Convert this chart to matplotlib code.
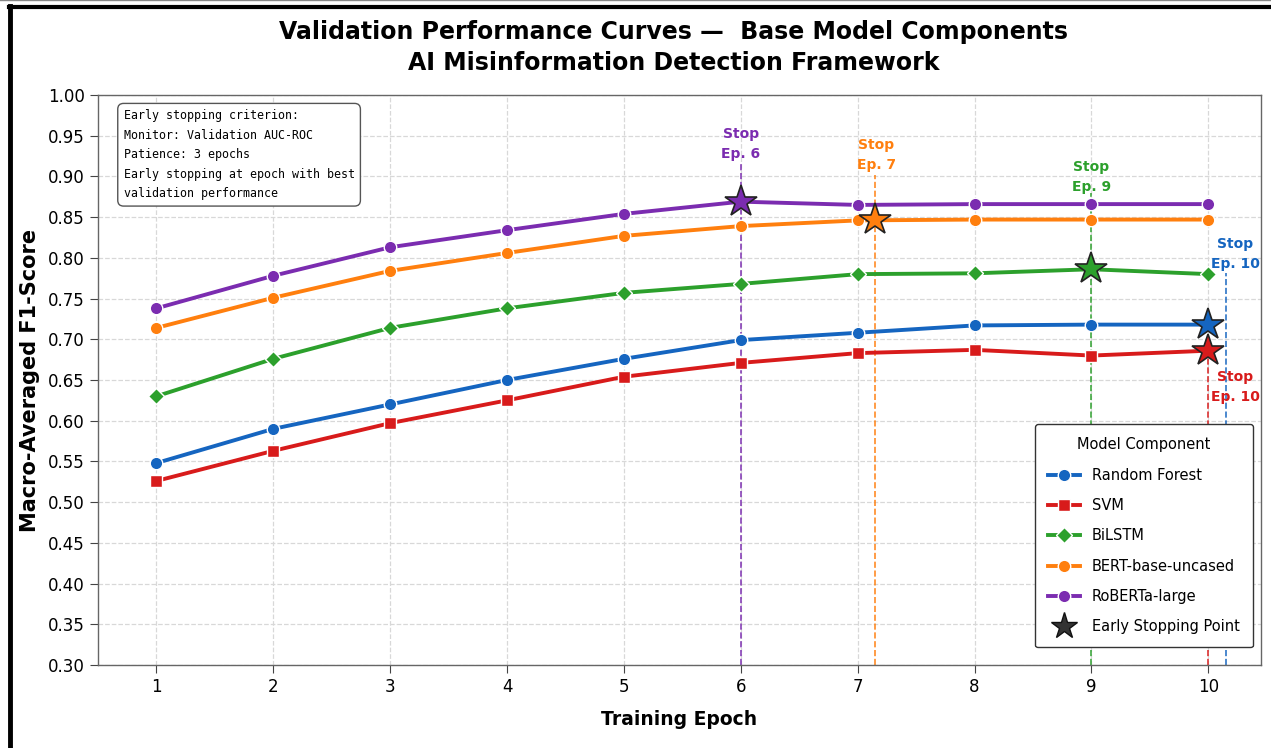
import matplotlib
matplotlib.use("Agg")
import matplotlib.pyplot as plt
from matplotlib.lines import Line2D

epochs = [1, 2, 3, 4, 5, 6, 7, 8, 9, 10]

models = ["Random Forest", "SVM", "BiLSTM", "BERT-base-uncased", "RoBERTa-large"]
rf = [0.548, 0.590, 0.620, 0.650, 0.676, 0.699, 0.708, 0.717, 0.718, 0.718]
svm = [0.526, 0.563, 0.597, 0.625, 0.654, 0.671, 0.683, 0.687, 0.680, 0.686]
bilstm = [0.630, 0.676, 0.714, 0.738, 0.757, 0.768, 0.780, 0.781, 0.786, 0.780]
bert = [0.714, 0.751, 0.784, 0.806, 0.827, 0.839, 0.846, 0.847, 0.847, 0.847]
roberta = [0.738, 0.778, 0.813, 0.834, 0.854, 0.869, 0.865, 0.866, 0.866, 0.866]
stop_epochs = [10, 10, 9, 7, 6]

series = [rf, svm, bilstm, bert, roberta]
colors = ["#1565c0", "#d81b1b", "#2ca02c", "#ff7f0e", "#7b2cb0"]
markers = ["o", "s", "D", "o", "o"]
msizes = [9, 8.5, 8, 9, 9]

# layout of the stop annotations: (x shift, text y, line top)
ann_xshift = [0.15, 0.0, 0.0, 0.15, 0.0]
ann_textx = [0.23, 0.23, 0.0, 0.16, 0.0]
ann_texty = [0.805, 0.641, 0.899, 0.926, 0.940]
ann_top = [0.781, 0.686, 0.880, 0.902, 0.917]
star_xshift = [0.0, 0.0, 0.0, 0.15, 0.0]

fig = plt.figure(figsize=(12.71, 7.48), dpi=100)
ax = fig.add_axes([0.0771, 0.111, 0.915, 0.762])

for i, name in enumerate(models):
    ax.plot(epochs, series[i], color=colors[i], marker=markers[i], lw=2.8,
            ms=msizes[i], mec="white", mew=1.0, label=name, zorder=3)

for i, name in enumerate(models):
    ep = stop_epochs[i]
    val = series[i][epochs.index(ep)]
    lx = ep + ann_xshift[i]
    ax.plot([lx, lx], [0.30, ann_top[i]], color=colors[i], ls="--", lw=1.2,
            alpha=0.9, zorder=2)
    ax.plot(ep + star_xshift[i], val, marker="*", ms=24, color=colors[i],
            mec="#222222", mew=1.2, ls="none", zorder=5)
    ax.text(ep + ann_textx[i], ann_texty[i], f"Stop\nEp. {ep}", color=colors[i],
            fontsize=10, fontweight="bold", ha="center", va="center",
            linespacing=1.55, zorder=6)

ax.set_xlim(0.5, 10.45)
ax.set_ylim(0.30, 1.00)
ax.set_xticks(epochs)
ax.set_yticks([0.30 + 0.05 * k for k in range(15)])
ax.set_yticklabels([f"{0.30 + 0.05 * k:.2f}" for k in range(15)])
ax.tick_params(labelsize=12, length=6, color="#444444")
ax.grid(True, ls="--", color="#d8d8d8", lw=0.9)
for s in ax.spines.values():
    s.set_color("#666666")
    s.set_linewidth(1.0)

ax.set_xlabel("Training Epoch", fontsize=13.5, fontweight="bold", labelpad=10)
ax.set_ylabel("Macro-Averaged F1-Score", fontsize=15, fontweight="bold", labelpad=6)

fig.text(0.53, 0.957, "Validation Performance Curves \u2014  Base Model Components",
         ha="center", va="center", fontsize=17, fontweight="bold")
fig.text(0.53, 0.916, "AI Misinformation Detection Framework",
         ha="center", va="center", fontsize=17, fontweight="bold")

box_text = ("Early stopping criterion:\nMonitor: Validation AUC-ROC\nPatience: 3 epochs\n"
            "Early stopping at epoch with best\nvalidation performance")
ax.text(0.022, 0.975, box_text, transform=ax.transAxes, family="DejaVu Sans Mono",
        fontsize=8.4, va="top", ha="left", linespacing=1.65,
        bbox=dict(boxstyle="round,pad=0.5", fc="white", ec="#555555", lw=1.0))

handles, labels = ax.get_legend_handles_labels()
handles.append(Line2D([], [], marker="*", ms=20, color="#333333", mec="#111111", ls="none"))
labels.append("Early Stopping Point")
leg = ax.legend(handles, labels, title="Model Component", loc="lower right",
                bbox_to_anchor=(0.999, 0.018), fontsize=10.5, title_fontsize=10.5,
                labelspacing=1.05, handlelength=2.2, borderpad=0.9, frameon=True,
                fancybox=True, framealpha=1.0)
leg.get_frame().set_edgecolor("#333333")
leg.get_frame().set_linewidth(1.0)

# outer frame of the picture
fig.add_artist(Line2D([0.0, 1.0], [0.9995, 0.9995], color="#888888", lw=1.0,
                      transform=fig.transFigure))
fig.add_artist(Line2D([0.0073, 1.0], [0.9912, 0.9912], color="black", lw=3.0,
                      transform=fig.transFigure))
fig.add_artist(Line2D([0.0075, 0.0075], [0.0, 0.9925], color="black", lw=3.5,
                      transform=fig.transFigure))

fig.savefig("out.png", dpi=100)
